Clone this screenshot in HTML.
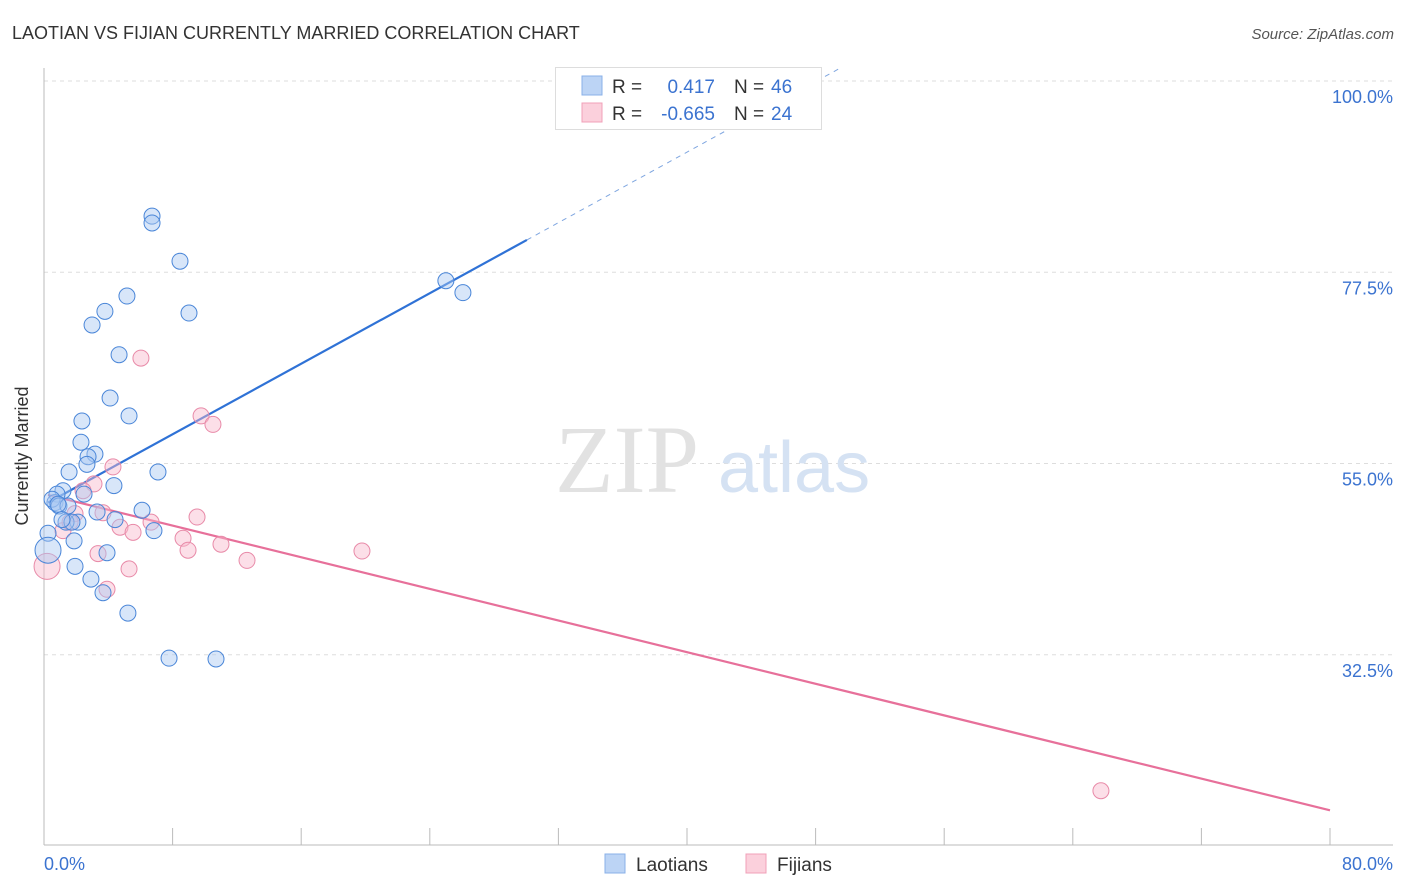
<!DOCTYPE html>
<html><head><meta charset="utf-8"><style>
body{margin:0;background:#fff;font-family:"Liberation Sans",sans-serif;}
svg{display:block}
</style></head><body>
<svg id="chart" width="1406" height="892">
<text x="12" y="39" font-size="18" fill="#333">LAOTIAN VS FIJIAN CURRENTLY MARRIED CORRELATION CHART</text>
<text x="1394" y="39" font-size="15" fill="#555" text-anchor="end" font-style="italic">Source: ZipAtlas.com</text>
<g id="grid"></g>
<text x="555" y="492" font-size="96" fill="#e2e2e2" font-family="Liberation Serif,serif">ZIP</text>
<text x="718" y="492" font-size="72" fill="#d5e2f3">atlas</text>
<g id="lines"></g>
<g id="pts"></g>
<text x="28" y="456" font-size="18" fill="#333" text-anchor="middle" transform="rotate(-90 28 456)">Currently Married</text>
<text x="44" y="870" font-size="18" fill="#3b73d0">0.0%</text>
<text x="1393" y="870" font-size="18" fill="#3b73d0" text-anchor="end">80.0%</text>
<g>
<rect x="555.5" y="67.5" width="266" height="62" fill="#fff" stroke="#ddd"/>
<rect x="582" y="76" width="20" height="19" fill="#bcd4f5" stroke="#8ab0e8"/>
<rect x="582" y="103" width="20" height="19" fill="#fbd0dc" stroke="#f0a0b8"/>
<text x="612" y="93" font-size="19" fill="#333">R = </text><text x="715" y="93" font-size="19" fill="#3b73d0" text-anchor="end">0.417</text>
<text x="734" y="93" font-size="19" fill="#333">N = </text><text x="771" y="93" font-size="19" fill="#3b73d0">46</text>
<text x="612" y="120" font-size="19" fill="#333">R = </text><text x="715" y="120" font-size="19" fill="#3b73d0" text-anchor="end">-0.665</text>
<text x="734" y="120" font-size="19" fill="#333">N = </text><text x="771" y="120" font-size="19" fill="#3b73d0">24</text>
</g>
<g>
<rect x="605" y="854" width="20" height="19" fill="#bcd4f5" stroke="#8ab0e8"/>
<text x="636" y="871" font-size="19" fill="#333">Laotians</text>
<rect x="746" y="854" width="20" height="19" fill="#fbd0dc" stroke="#f0a0b8"/>
<text x="777" y="871" font-size="19" fill="#333">Fijians</text>
</g>
</svg>
<script>
const yTicks=[100,77.5,55,32.5];
const yTickLabels=["100.0%","77.5%","55.0%","32.5%"];
const blueX=[6.72,6.72,8.46,5.16,3.79,2.99,9.02,4.67,4.11,5.29,2.36,2.30,3.17,2.74,2.67,1.56,7.09,4.35,1.18,0.81,2.49,0.68,0.50,0.93,1.49,6.10,3.30,4.42,2.11,1.37,1.74,6.84,0.25,1.87,3.92,1.93,2.92,3.67,5.22,7.78,10.70,25.0,26.06,0.25,0.87,1.12];
const blueY=[84.1,83.3,78.8,74.7,72.9,71.3,72.7,67.8,62.7,60.6,60.0,57.5,56.1,55.8,54.9,54.0,54.0,52.4,51.8,51.4,51.4,50.4,50.8,50.0,50.0,49.5,49.3,48.4,48.1,48.1,48.1,47.1,46.8,45.9,44.5,42.9,41.4,39.8,37.4,32.1,32.0,76.5,75.1,44.8,50.2,48.4];
const pinkX=[6.03,9.77,10.51,4.29,3.11,2.43,1.93,3.67,6.66,9.52,4.73,5.54,1.18,8.65,3.36,8.96,11.01,19.78,12.63,5.29,0.19,3.92,65.75,1.62];
const pinkY=[67.4,60.6,59.6,54.6,52.6,51.8,49.1,49.2,48.1,48.7,47.5,46.9,47.1,46.2,44.4,44.8,45.5,44.7,43.6,42.6,42.9,40.2,16.5,48.1];
const blueTrend=[0.25,50.4,30.04,81.3,49.6];
const pinkTrend=[0.25,51.3,80,14.2];
const NS="http://www.w3.org/2000/svg";
const xs=v=>44+v/80*1286, ys=v=>81+(100-v)*8.5;
function mk(t,a,p){const e=document.createElementNS(NS,t);for(const k in a)e.setAttribute(k,a[k]);p.appendChild(e);return e;}
const g=document.getElementById('grid');
yTicks.forEach((t,i)=>{
 const l=mk('line',{x1:44,x2:1393,y1:ys(t),y2:ys(t),stroke:'#ddd','stroke-dasharray':'4,4'},g);
 
 
 const tx=mk('text',{x:1393,y:ys(t)+22,'font-size':18,fill:'#3b73d0','text-anchor':'end'},g);tx.textContent=yTickLabels[i];
 
 
});
mk('line',{x1:44,x2:44,y1:68,y2:845,stroke:'#bbb'},g);
mk('line',{x1:44,x2:1393,y1:845,y2:845,stroke:'#bbb'},g);
for(let i=1;i<=10;i++){const x=xs(i*8);const t=mk('line',{x1:x,x2:x,y1:828,y2:845,stroke:'#bbb'},g);
 
 }
const L=document.getElementById('lines');
let b=mk('line',{x1:xs(blueTrend[0]),y1:ys(blueTrend[1]),x2:xs(blueTrend[2]),y2:ys(blueTrend[3]),stroke:'#2f72d6','stroke-width':2.2},L);


const sl=(blueTrend[3]-blueTrend[1])/(blueTrend[2]-blueTrend[0]);
let bd=mk('line',{x1:xs(blueTrend[2]),y1:ys(blueTrend[3]),x2:xs(blueTrend[4]),y2:ys(blueTrend[3]+sl*(blueTrend[4]-blueTrend[2])),stroke:'#7fa6e0','stroke-width':1,'stroke-dasharray':'5,5'},L);


let p=mk('line',{x1:xs(pinkTrend[0]),y1:ys(pinkTrend[1]),x2:xs(pinkTrend[2]),y2:ys(pinkTrend[3]),stroke:'#e7709a','stroke-width':2.2},L);


const P=document.getElementById('pts');
function dots(X,Y,fill,stroke,name){X.forEach((x,i)=>{const big=(x<0.3&&i>=X.length-4&&name==='laotian-point')||(x<0.3&&name==='fijian-point');
 const c=mk('circle',{cx:xs(x),cy:ys(Y[i]),r:big?13:8,fill:fill,'fill-opacity':0.45,stroke:stroke,'stroke-width':1},P);
 
 });}
dots(pinkX,pinkY,'#f8b7cb','#e88aa8','fijian-point');
dots(blueX,blueY,'#a9c8f2','#4a86d8','laotian-point');
</script>
</body></html>
